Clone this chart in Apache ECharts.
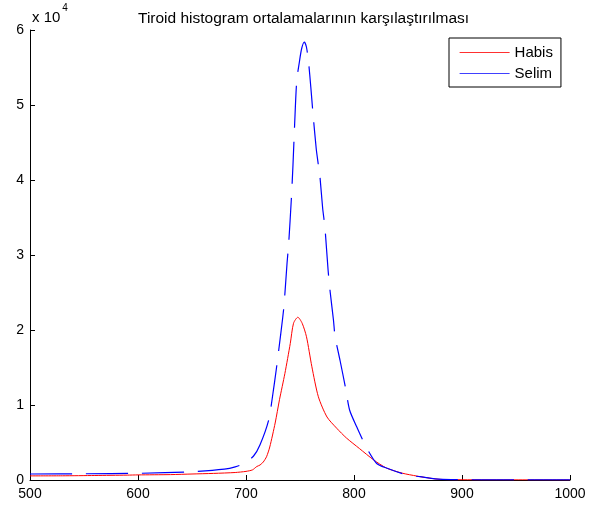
<!DOCTYPE html>
<html>
<head>
<meta charset="utf-8">
<script src="https://cdn.jsdelivr.net/npm/echarts@6/dist/echarts.min.js"></script>
<style>
  html, body { margin: 0; padding: 0; background: #fff; }
  #chart { width: 592px; height: 506px; }
</style>
</head>
<body>
<div id="chart"></div>
<script>
// values (x in histogram bins, y in counts)
const habisX = [500, 530, 560, 590, 600, 630, 650, 670, 690, 700, 706, 710, 713, 716, 719, 722, 727, 731, 736, 741, 744, 748, 752, 756, 761, 767, 775, 784, 793, 805, 818, 830, 845, 858, 870, 880, 900, 950, 1000];
const habisY = [550, 560, 600, 650, 680, 720, 800, 880, 1000, 1150, 1350, 1800, 2000, 2400, 3100, 4400, 7600, 10700, 14200, 18200, 20900, 21700, 20900, 19100, 15100, 11100, 8400, 6900, 5600, 4200, 2700, 1600, 900, 530, 250, 80, 30, 20, 10];

const selimX = [500, 550, 600, 650, 680, 690, 698, 707, 713, 721, 725, 728, 731.5, 735, 738, 739.5, 742, 743.5, 745, 747, 749.5, 751.5, 754, 756, 758, 760, 762, 765, 767, 768.5, 771, 773, 776, 778, 781, 782.5, 787, 792, 796, 802.5, 812, 821, 830, 849, 861, 875, 890, 950, 1000];
const selimY = [800, 830, 890, 1100, 1450, 1750, 2200, 3200, 4700, 8000, 11600, 14700, 18700, 23000, 28900, 31500, 37500, 42000, 47300, 53300, 55800, 57500, 58400, 57700, 55600, 52400, 48900, 44200, 42000, 40400, 36200, 33800, 28000, 25000, 21300, 19100, 16000, 12400, 9300, 7100, 4200, 2200, 1600, 670, 440, 150, 50, 20, 10];

const yTicks = [0, 1, 2, 3, 4, 5, 6];

const zip = (xs, ys) => xs.map((x, i) => [x, ys[i]]);

const chart = echarts.init(document.getElementById('chart'));
const font = '"Liberation Sans", Arial, sans-serif';

const option = {
    animation: false,
    backgroundColor: '#fff',
    textStyle: {fontFamily: font},
    title: {
        text: 'Tiroid histogram ortalamalarının karşılaştırılması',
        left: 133,
        top: 6,
        textStyle: {fontSize: 15.5, fontWeight: 'normal', color: '#000', fontFamily: font}
    },
    graphic: [{
        type: 'text',
        left: 32,
        top: 3,
        style: {
            text: '{a|x 10}{b|4}',
            rich: {
                a: {fontSize: 15, fontFamily: font, fill: '#000', verticalAlign: 'bottom', lineHeight: 22},
                b: {fontSize: 10, fontFamily: font, fill: '#000', verticalAlign: 'top', padding: [0, 0, 0, 2], lineHeight: 22}
            }
        }
    }],
    legend: {
        left: 449,
        top: 38,
        orient: 'vertical',
        backgroundColor: '#fff',
        borderColor: '#000',
        borderWidth: 1,
        borderRadius: 0,
        padding: [7, 8, 6, 10],
        itemWidth: 50,
        itemHeight: 14,
        itemGap: 6,
        itemStyle: {opacity: 0},
        textStyle: {fontSize: 15, color: '#000', fontFamily: font},
        data: [
            {name: 'Habis', lineStyle: {type: 'solid', color: '#ff3030', width: 1.2}},
            {name: 'Selim', lineStyle: {type: 'solid', color: '#4040ff', width: 1.2}}
        ]
    },
    grid: {left: 30, right: 22, top: 30, bottom: 26, containLabel: false},
    xAxis: {
        type: 'value',
        min: 500,
        max: 1000,
        interval: 100,
        axisLine: {lineStyle: {color: '#000', width: 1}},
        axisTick: {inside: true, length: 5, lineStyle: {color: '#000'}},
        axisLabel: {color: '#000', fontSize: 14, margin: 7, fontFamily: font, formatter: v => String(v)},
        splitLine: {show: false}
    },
    yAxis: {
        type: 'value',
        min: 0,
        max: 60000,
        interval: 10000,
        axisLine: {show: true, lineStyle: {color: '#000', width: 1}},
        axisTick: {show: true, inside: true, length: 5, lineStyle: {color: '#000'}},
        axisLabel: {
            color: '#000', fontSize: 14, margin: 6, fontFamily: font,
            formatter: v => String(yTicks[Math.round(v / 10000)])
        },
        splitLine: {show: false}
    },
    series: [
        {
            name: 'Habis',
            type: 'line',
            symbol: 'none',
            smooth: 0.25,
            data: zip(habisX, habisY),
            lineStyle: {color: '#ff0000', width: 1},
            itemStyle: {color: '#ff0000'}
        },
        {
            name: 'Selim',
            type: 'line',
            symbol: 'none',
            smooth: 0.25,
            data: zip(selimX, selimY),
            lineStyle: {color: '#0000ff', width: 1.2, type: [42, 14]},
            itemStyle: {color: '#0000ff'}
        }
    ]
};

chart.setOption(option);
</script>
</body>
</html>
